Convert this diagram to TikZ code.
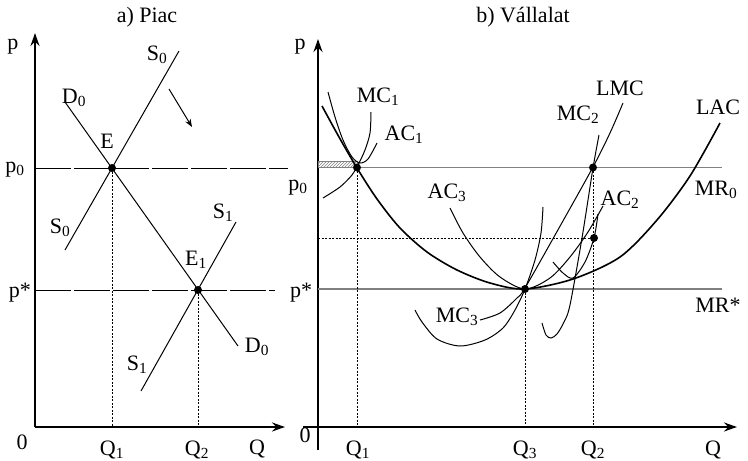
\documentclass[tikz,border=0pt]{standalone}
\usepackage{fontspec}
\setmainfont{Liberation Serif}
\usetikzlibrary{arrows.meta,patterns}

\begin{document}
\begin{tikzpicture}[x=1pt,y=-1pt,
    every node/.style={font=\fontsize{22}{26}\selectfont, inner sep=0pt},
    curve/.style={line width=1pt},
    thickcurve/.style={line width=1.6pt},
    dotline/.style={line width=0.8pt, dash pattern=on 2pt off 1.5pt},
    priceline/.style={line width=1pt, dash pattern=on 36pt off 3pt},
    mrline/.style={gray, line width=1.8pt},
    axis/.style={line width=2.4pt, -{Stealth[length=13pt,width=9pt]}}]
    \useasboundingbox (0,0) rectangle (748,461);

    % a) market
    \node (ta) at (147,17) {a) Piac};
    \coordinate (Oa) at (35,427);
    \coordinate (Ya) at (35,33);
    \coordinate (Xa) at (285,427);
    \coordinate (E) at (112,168);
    \coordinate (E1) at (198,290);
    \draw[axis] (Oa) -- (Ya);
    \draw[axis] (Oa) -- (Xa);

    % price levels
    \draw[priceline] (Oa |- E) -- (288,168);
    \draw[priceline] (Oa |- E1) -- (275,290);

    % demand and supplies
    \draw[curve] (65,102) -- (238,346);
    \draw[curve] (179,51) -- (65,250);
    \draw[curve] (236,222) -- (141,391);
    \draw[curve, -{Stealth[length=8pt,width=6pt]}] (169,89) -- (192,127);

    \draw[dotline] (E) -- (E |- Oa);
    \draw[dotline] (E1) -- (E1 |- Oa);
    \fill (E) circle (4pt);
    \fill (E1) circle (4pt);

    \node (pa) at (13,47) {p};
    \node (pa0) at (15,170) {p\textsubscript{0}};
    \node (pas) at (20,293) {p*};
    \node (za) at (22,442) {0};
    \node (qa1) at (112,450) {Q\textsubscript{1}};
    \node (qa2) at (197,450) {Q\textsubscript{2}};
    \node (qa) at (257,449) {Q};
    \node (s0a) at (157,55) {S\textsubscript{0}};
    \node (d0a) at (74,98) {D\textsubscript{0}};
    \node (le) at (107,141) {E};
    \node (s0b) at (60,228) {S\textsubscript{0}};
    \node (s1a) at (223,213) {S\textsubscript{1}};
    \node (le1) at (196,260) {E\textsubscript{1}};
    \node (d0b) at (257,347) {D\textsubscript{0}};
    \node (s1b) at (137,365) {S\textsubscript{1}};

    % b) firm
    \node (tb) at (523,17) {b) Vállalat};
    \coordinate (Ob) at (318,427);
    \coordinate (Yb0) at (318,450);
    \coordinate (Yb) at (318,39);
    \coordinate (Xb0) at (303,427);
    \coordinate (Xb) at (737,427);
    \coordinate (A) at (357,167.5);
    \coordinate (B) at (593,167.5);
    \coordinate (C) at (525,289);
    \coordinate (D) at (594,238);
    \draw[axis] (Yb0) -- (Yb);
    \draw[axis] (Xb0) -- (Xb);

    % revenue lines and profit area
    \draw[mrline] (Ob |- A) -- (722,167.5);
    \draw[mrline] (Ob |- C) -- (722,289);
    \fill[pattern=north east lines, pattern color=gray] (318,161) rectangle (A);
    \draw[gray, line width=0.5pt] (318,161) rectangle (A);

    \draw[dotline] (A) -- (A |- Ob);
    \draw[dotline] (C) -- (C |- Ob);
    \draw[dotline] (B) -- (B |- Ob);
    \draw[dotline] (Ob |- D) -- (D);

    % long run average cost
    \draw[thickcurve] plot[smooth] coordinates {(322,106) (339,137) (357,168)
        (377,199) (400,228) (427,252) (457,270) (490,283) (525,289) (573,279)
        (620,257) (657,220) (690,176) (720,123)};

    % short run curves
    \draw[curve] plot[smooth] coordinates {(323,198) (340,187) (352,175) (358,165)
        (365,150) (370,133) (371,112)};
    \draw[curve] plot[smooth] coordinates {(328,92) (335,117) (343,140) (352,157)
        (360,163) (368,159) (377,143)};
    \draw[curve] plot[smooth] coordinates {(450,208) (463,233) (480,257) (500,277)
        (525,289) (550,278) (570,257) (588,232) (603,206)};
    \draw[curve] plot[smooth] coordinates {(415,310) (422,322) (437,339) (460,346)
        (485,340) (503,328) (515,310) (525,289) (535,260) (541,233) (543,207)};
    \draw[curve] plot[smooth] coordinates {(542,323) (546,335) (551,338) (557,334)
        (564,322) (570,305) (582,238) (593,168) (599,135)};
    \draw[curve] plot[smooth] coordinates {(553,262) (563,273) (573,278) (585,262)
        (594,238) (598,214)};
    \draw[curve] plot[smooth] coordinates {(480,320) (500,313) (517,298) (525,288)
        (559,228) (593,167) (610,133) (623,103)};

    \fill (A) circle (4pt);
    \fill (B) circle (4pt);
    \fill (C) circle (4pt);
    \fill (D) circle (4pt);

    \node (pb) at (300,47) {p};
    \node (pb0) at (298,188) {p\textsubscript{0}};
    \node (pbs) at (301,293) {p*};
    \node (zb) at (305,435) {0};
    \node (qb1) at (358,450) {Q\textsubscript{1}};
    \node (qb3) at (525,450) {Q\textsubscript{3}};
    \node (qb2) at (593,450) {Q\textsubscript{2}};
    \node (qb) at (713,450) {Q};
    \node (mc1) at (378,97) {MC\textsubscript{1}};
    \node (ac1) at (404,135) {AC\textsubscript{1}};
    \node (ac3) at (447,193) {AC\textsubscript{3}};
    \node (mc3) at (457,317) {MC\textsubscript{3}};
    \node (mc2) at (578,115) {MC\textsubscript{2}};
    \node (lmc) at (620,88) {LMC};
    \node (lac) at (718,107) {LAC};
    \node (ac2) at (620,200) {AC\textsubscript{2}};
    \node (mr0) at (716,190) {MR\textsubscript{0}};
    \node (mrs) at (718,305) {MR*};
\end{tikzpicture}
\end{document}
